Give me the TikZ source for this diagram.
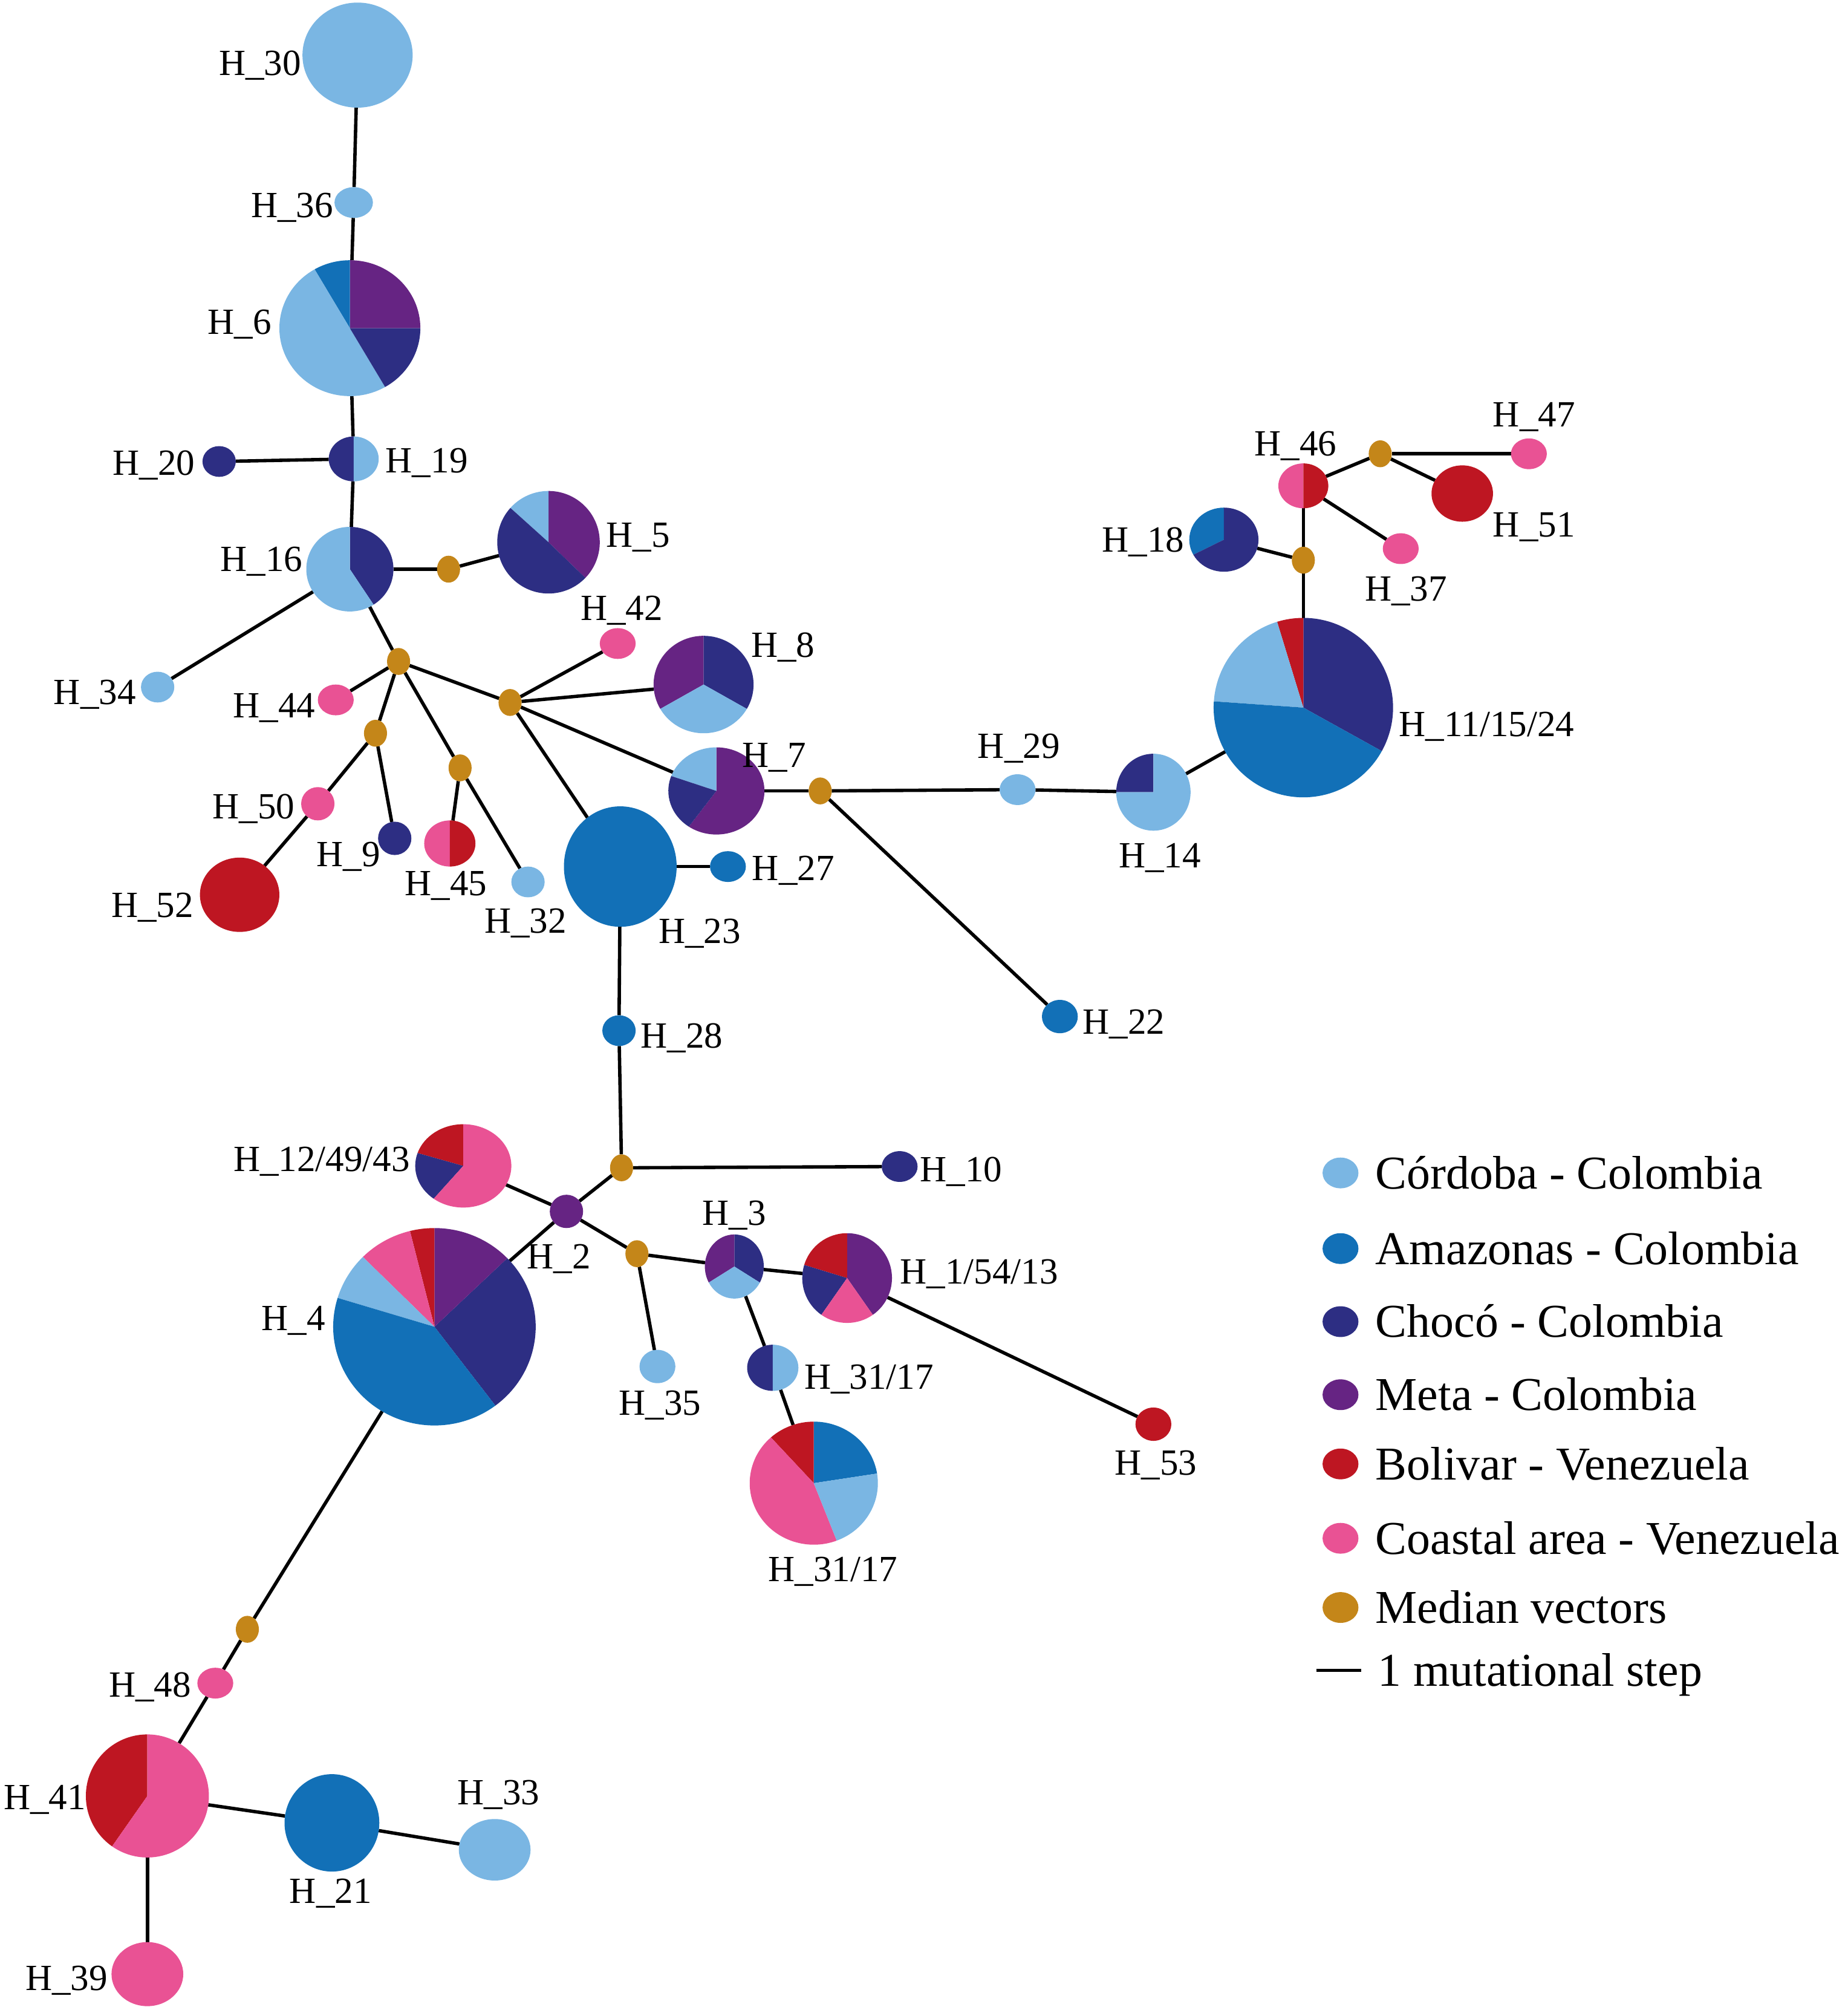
\documentclass[tikz,border=0pt]{standalone}
\usepackage{fontspec}
\setmainfont{Liberation Serif}
\usetikzlibrary{shapes.geometric}
\definecolor{cord}{RGB}{122,182,227}
\definecolor{amaz}{RGB}{18,112,183}
\definecolor{choco}{RGB}{45,46,131}
\definecolor{meta}{RGB}{102,36,131}
\definecolor{boli}{RGB}{190,22,34}
\definecolor{coast}{RGB}{233,82,148}
\definecolor{medv}{RGB}{196,134,25}
\pgfdeclarelayer{bg}
\pgfsetlayers{bg,main}
\tikzset{
  hnd/.style={ellipse, inner sep=0pt, outer sep=0pt, draw=none},
  mv/.style={hnd, fill=medv, minimum width=0.36cm, minimum height=0.42cm},
  link/.style={line width=1.5pt, black},
  lbl/.style={anchor=base, inner sep=0pt, font=\fontsize{16.4}{19}\selectfont},
  legt/.style={anchor=base west, inner sep=0pt, font=\fontsize{20.9}{25}\selectfont},
  legc/.style={hnd, minimum width=0.56cm, minimum height=0.48cm}
}
% name x y rx ry fill
\newcommand\hp[6]{\node[hnd, fill=#6, minimum width=#4*0.04cm, minimum height=#5*0.04cm] (#1) at (#2,-#3) {};}
% name x y rx ry (pie holder)
\newcommand\pp[5]{\node[hnd, minimum width=#4*0.04cm, minimum height=#5*0.04cm] (#1) at (#2,-#3) {};}
% node rx ry a1 a2 colour
\newcommand\pslice[6]{\fill[#6] (#1.center) -- ++(#4:#2 and #3) arc[start angle=#4, end angle=#5, x radius=#2, y radius=#3] -- cycle;}
% name x ycap text
\newcommand\lab[4]{\node[lbl] (#1) at (#2,{-#3-9.7}) {#4};}
\begin{document}
\begin{tikzpicture}[x=0.02cm, y=0.02cm]
\useasboundingbox (0,0) rectangle (1442,-1568);

% ---------- haplotype nodes ----------
\hp{h30}{279}{43}{43}{41}{cord}
\hp{h36}{276}{158}{15}{12}{cord}
\pp{h6}{273}{256}{55}{53}
\pslice{h6}{55}{53}{0}{90}{meta}
\pslice{h6}{55}{53}{90}{120}{amaz}
\pslice{h6}{55}{53}{120}{300}{cord}
\pslice{h6}{55}{53}{300}{360}{choco}
\hp{h20}{171}{360}{13}{12}{choco}
\pp{h19}{276}{358}{19.5}{17.5}
\pslice{h19}{19.5}{17.5}{90}{270}{choco}
\pslice{h19}{19.5}{17.5}{-90}{90}{cord}
\pp{h16}{273}{444}{34}{33}
\pslice{h16}{34}{33}{-57}{90}{choco}
\pslice{h16}{34}{33}{90}{303}{cord}
\pp{h5}{428}{423}{40}{40}
\pslice{h5}{40}{40}{-44}{90}{meta}
\pslice{h5}{40}{40}{90}{138}{cord}
\pslice{h5}{40}{40}{138}{316}{choco}
\hp{h34}{123}{536}{13}{12}{cord}
\hp{h44}{262}{546}{14}{12}{coast}
\hp{h42}{482}{502}{14}{12}{coast}
\pp{h8}{549}{534}{39}{38}
\pslice{h8}{39}{38}{-30}{90}{choco}
\pslice{h8}{39}{38}{90}{210}{meta}
\pslice{h8}{39}{38}{210}{330}{cord}
\pp{h7}{559}{617}{37.5}{34}
\pslice{h7}{37.5}{34}{-125}{90}{meta}
\pslice{h7}{37.5}{34}{90}{160}{cord}
\pslice{h7}{37.5}{34}{160}{235}{choco}
\hp{h50}{248}{627}{13}{13}{coast}
\hp{h52}{187}{698}{31}{29}{boli}
\hp{h9}{308}{654}{13}{13}{choco}
\pp{h45}{351}{658}{20}{18}
\pslice{h45}{20}{18}{90}{270}{coast}
\pslice{h45}{20}{18}{-90}{90}{boli}
\hp{h32}{412}{688}{13}{12}{cord}
\hp{h23}{484}{676}{44}{47}{amaz}
\hp{h27}{568}{676}{14}{12}{amaz}
\hp{h29}{794}{616}{14}{12}{cord}
\pp{h14}{900}{618}{29}{30}
\pslice{h14}{29}{30}{90}{180}{choco}
\pslice{h14}{29}{30}{180}{450}{cord}
\pp{h11}{1017}{552}{70}{70}
\pslice{h11}{70}{70}{-29}{90}{choco}
\pslice{h11}{70}{70}{90}{107}{boli}
\pslice{h11}{70}{70}{107}{176}{cord}
\pslice{h11}{70}{70}{176}{331}{amaz}
\pp{h18}{955}{421}{27}{25}
\pslice{h18}{27}{25}{90}{208}{amaz}
\pslice{h18}{27}{25}{208}{450}{choco}
\pp{h46}{1017}{379}{19.5}{17.5}
\pslice{h46}{19.5}{17.5}{90}{270}{coast}
\pslice{h46}{19.5}{17.5}{-90}{90}{boli}
\hp{h47}{1193}{354}{14}{12}{coast}
\hp{h51}{1141}{385}{24}{22}{boli}
\hp{h37}{1093}{428}{14}{12}{coast}
\hp{h22}{827}{793}{14}{13}{amaz}
\hp{h28}{483}{804}{13}{12}{amaz}
\hp{h10}{702}{910}{14}{12}{choco}
\hp{h2}{442}{945}{13}{13}{meta}
\pp{h12}{361.5}{909.5}{37.5}{32.5}
\pslice{h12}{37.5}{32.5}{90}{162}{boli}
\pslice{h12}{37.5}{32.5}{162}{232}{choco}
\pslice{h12}{37.5}{32.5}{232}{450}{coast}
\pp{h4}{339}{1035}{79}{77}
\pslice{h4}{79}{77}{-53}{44}{choco}
\pslice{h4}{79}{77}{44}{90}{meta}
\pslice{h4}{79}{77}{90}{104}{boli}
\pslice{h4}{79}{77}{104}{135}{coast}
\pslice{h4}{79}{77}{135}{163}{cord}
\pslice{h4}{79}{77}{163}{307}{amaz}
\pp{h3}{573}{988}{23}{25}
\pslice{h3}{23}{25}{-30}{90}{choco}
\pslice{h3}{23}{25}{90}{210}{meta}
\pslice{h3}{23}{25}{210}{330}{cord}
\pp{h1}{661}{997}{35}{35}
\pslice{h1}{35}{35}{-55}{90}{meta}
\pslice{h1}{35}{35}{90}{163}{boli}
\pslice{h1}{35}{35}{163}{235}{choco}
\pslice{h1}{35}{35}{235}{305}{coast}
\hp{h53}{900}{1111}{14}{13}{boli}
\hp{h35}{513}{1066}{14}{13}{cord}
\pp{h31s}{603}{1067}{20}{18}
\pslice{h31s}{20}{18}{90}{270}{choco}
\pslice{h31s}{20}{18}{-90}{90}{cord}
\pp{h31b}{635}{1157}{50}{48}
\pslice{h31b}{50}{48}{9}{90}{amaz}
\pslice{h31b}{50}{48}{90}{132}{boli}
\pslice{h31b}{50}{48}{132}{291}{coast}
\pslice{h31b}{50}{48}{291}{369}{cord}
\hp{h48}{168}{1313}{14}{12}{coast}
\pp{h41}{115}{1401}{48}{48}
\pslice{h41}{48}{48}{90}{235}{boli}
\pslice{h41}{48}{48}{235}{450}{coast}
\hp{h21}{259}{1422}{37}{38}{amaz}
\hp{h33}{386}{1443}{28}{24}{cord}
\hp{h39}{115}{1540}{28}{25}{coast}

% ---------- median vectors ----------
\node[mv] (m1) at (350,-444) {};
\node[mv] (m2) at (311,-516) {};
\node[mv] (m3) at (293,-572) {};
\node[mv] (m4) at (359,-599) {};
\node[mv] (m5) at (398,-548) {};
\node[mv] (m6) at (640,-617) {};
\node[mv] (m7) at (1017,-437) {};
\node[mv] (m8) at (1077,-354) {};
\node[mv] (m9) at (485,-911) {};
\node[mv] (m10) at (497,-978) {};
\node[mv] (m11) at (193,-1271) {};

% ---------- connectors ----------
\begin{pgfonlayer}{bg}
\draw[link] (h30) -- (h36);
\draw[link] (h36) -- (h6);
\draw[link] (h6) -- (h19);
\draw[link] (h19) -- (h16);
\draw[link] (h20) -- (h19);
\draw[link] (h16) -- (m1);
\draw[link] (m1) -- (h5);
\draw[link] (h16) -- (h34);
\draw[link] (h16) -- (m2);
\draw[link] (m2) -- (h44);
\draw[link] (m2) -- (m3);
\draw[link] (m2) -- (m4);
\draw[link] (m2) -- (m5);
\draw[link] (m3) -- (h50);
\draw[link] (h50) -- (h52);
\draw[link] (m3) -- (h9);
\draw[link] (m4) -- (h45);
\draw[link] (m4) -- (h32);
\draw[link] (m5) -- (h42);
\draw[link] (m5) -- (h8);
\draw[link] (m5) -- (h7);
\draw[link] (m5) -- (h23);
\draw[link] (h7) -- (m6);
\draw[link] (m6) -- (h29);
\draw[link] (h29) -- (h14);
\draw[link] (h14) -- (h11);
\draw[link] (m6) -- (h22);
\draw[link] (h11) -- (m7);
\draw[link] (m7) -- (h18);
\draw[link] (m7) -- (h46);
\draw[link] (h46) -- (m8);
\draw[link] (m8) -- (h47);
\draw[link] (m8) -- (h51);
\draw[link] (h46) -- (h37);
\draw[link] (h23) -- (h27);
\draw[link] (h23) -- (h28);
\draw[link] (h28) -- (m9);
\draw[link] (m9) -- (h10);
\draw[link] (m9) -- (h2);
\draw[link] (h2) -- (h12);
\draw[link] (h2) -- (h4);
\draw[link] (h2) -- (m10);
\draw[link] (m10) -- (h35);
\draw[link] (m10) -- (h3);
\draw[link] (h3) -- (h1);
\draw[link] (h1) -- (h53);
\draw[link] (h3) -- (h31s);
\draw[link] (h31s) -- (h31b);
\draw[link] (h4) -- (m11);
\draw[link] (m11) -- (h48);
\draw[link] (h48) -- (h41);
\draw[link] (h41) -- (h21);
\draw[link] (h21) -- (h33);
\draw[link] (h41) -- (h39);
\end{pgfonlayer}

% ---------- labels ----------
\lab{l30}{203}{49}{H\_30}
\lab{l36}{228}{160}{H\_36}
\lab{l6}{187}{251}{H\_6}
\lab{l20}{120}{361}{H\_20}
\lab{l19}{333}{359}{H\_19}
\lab{l16}{204}{436}{H\_16}
\lab{l5}{498}{417}{H\_5}
\lab{l34}{74}{540}{H\_34}
\lab{l44}{214}{550}{H\_44}
\lab{l42}{485}{474}{H\_42}
\lab{l8}{611}{503}{H\_8}
\lab{l50}{198}{629}{H\_50}
\lab{l9}{272}{666}{H\_9}
\lab{l45}{348}{689}{H\_45}
\lab{l32}{410}{718}{H\_32}
\lab{l52}{119}{706}{H\_52}
\lab{l7}{604}{589}{H\_7}
\lab{l27}{619}{677}{H\_27}
\lab{l23}{546}{726}{H\_23}
\lab{l29}{795}{582}{H\_29}
\lab{l14}{905}{667}{H\_14}
\lab{l22}{877}{797}{H\_22}
\lab{l11}{1160}{565}{H\_11/15/24}
\lab{l18}{892}{421}{H\_18}
\lab{l46}{1011}{346}{H\_46}
\lab{l47}{1197}{323}{H\_47}
\lab{l51}{1197}{409}{H\_51}
\lab{l37}{1097}{459}{H\_37}
\lab{l28}{532}{808}{H\_28}
\lab{l10}{750}{912}{H\_10}
\lab{l12}{251}{904}{H\_12/49/43}
\lab{l2}{436}{980}{H\_2}
\lab{l3}{573}{946}{H\_3}
\lab{l4}{229}{1028}{H\_4}
\lab{l1}{764}{992}{H\_1/54/13}
\lab{l35}{515}{1094}{H\_35}
\lab{l31s}{678}{1074}{H\_31/17}
\lab{l31b}{650}{1224}{H\_31/17}
\lab{l53}{902}{1141}{H\_53}
\lab{l48}{117}{1314}{H\_48}
\lab{l41}{35}{1402}{H\_41}
\lab{l21}{258}{1475}{H\_21}
\lab{l33}{389}{1398}{H\_33}
\lab{l39}{52}{1543}{H\_39}

% ---------- legend ----------
\node[legc, fill=cord] (g1) at (1046,-915) {};
\node[legc, fill=amaz] (g2) at (1046,-974) {};
\node[legc, fill=choco] (g3) at (1046,-1031) {};
\node[legc, fill=meta] (g4) at (1046,-1088) {};
\node[legc, fill=boli] (g5) at (1046,-1142) {};
\node[legc, fill=coast] (g6) at (1046,-1200) {};
\node[legc, fill=medv] (g7) at (1046,-1254) {};
\node[legt] (t1) at (1073,{-915-12.2}) {Córdoba - Colombia};
\node[legt] (t2) at (1073,{-974-12.2}) {Amazonas - Colombia};
\node[legt] (t3) at (1073,{-1031-12.2}) {Chocó - Colombia};
\node[legt] (t4) at (1073,{-1088-12.2}) {Meta - Colombia};
\node[legt] (t5) at (1073,{-1142-12.2}) {Bolivar - Venezuela};
\node[legt] (t6) at (1073,{-1200-12.2}) {Coastal area - Venezuela};
\node[legt] (t7) at (1073,{-1254-12.2}) {Median vectors};
\coordinate (s1) at (1027,-1303);
\coordinate (s2) at (1062,-1303);
\draw[link] (s1) -- (s2);
\node[legt] (t8) at (1075,{-1303-12.2}) {1 mutational step};
\end{tikzpicture}
\end{document}
